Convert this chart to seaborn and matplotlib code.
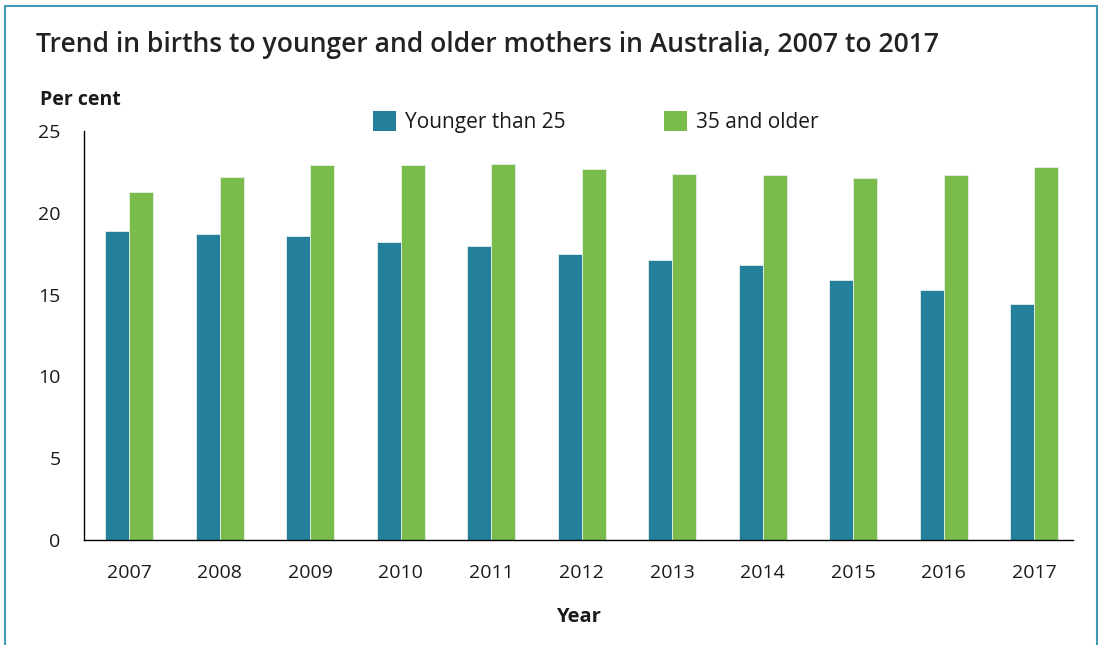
import pandas as pd
import matplotlib.pyplot as plt
import seaborn as sns
from matplotlib.patches import Rectangle, Patch

# values
years = ["2007", "2008", "2009", "2010", "2011", "2012",
         "2013", "2014", "2015", "2016", "2017"]
younger_25 = [18.9, 18.7, 18.6, 18.2, 18.0, 17.5, 17.1, 16.8, 15.9, 15.3, 14.4]
older_35 = [21.3, 22.2, 22.9, 22.9, 23.0, 22.7, 22.4, 22.3, 22.1, 22.3, 22.8]
groups = ["Younger than 25", "35 and older"]
colours = ["#237f9a", "#7abc4b"]

df = pd.DataFrame({
    "Year": years * 2,
    "Percent": younger_25 + older_35,
    "Group": [groups[0]] * len(years) + [groups[1]] * len(years),
})

sns.set_style("white")
plt.rcParams["font.family"] = ["Open Sans", "DejaVu Sans"]
text_col = "#1a1a1a"

fig = plt.figure(figsize=(11.01, 6.45), dpi=100)
ax = fig.add_axes([84 / 1101, 1 - 540 / 645, (1073 - 84) / 1101, (540 - 131) / 645])

sns.barplot(data=df, x="Year", y="Percent", hue="Group", hue_order=groups,
            palette=colours, width=0.53, gap=0, saturation=1,
            edgecolor="#e4f0e8", linewidth=0.6, ax=ax, legend=False)

ax.set_ylim(0, 25)
ax.set_xlim(-0.5, 10.43)
ax.set_yticks([0, 5, 10, 15, 20, 25])
ax.tick_params(axis="y", length=9, width=1, colors=text_col, labelsize=14, pad=8)
ax.tick_params(axis="x", length=0, labelsize=14, colors=text_col, pad=17)
for s in ["top", "right"]:
    ax.spines[s].set_visible(False)
for s in ["left", "bottom"]:
    ax.spines[s].set_color("black")
    ax.spines[s].set_linewidth(1)
ax.set_xlabel("Year", fontsize=14.5, fontweight="bold", color=text_col, labelpad=18)
ax.set_ylabel("")

fig.text(36 / 1101, 1 - 45 / 645, "Trend in births to younger and older mothers in Australia, 2007 to 2017",
         fontsize=19.1, fontweight="semibold", color="#222222", va="center", ha="left")
fig.text(40 / 1101, 1 - 100 / 645, "Per cent", fontsize=14, fontweight="bold",
         color=text_col, va="center", ha="left")

handles = [Patch(facecolor=c, edgecolor="none") for c in colours]
fig.legend(handles, groups, loc="center left", bbox_to_anchor=(373 / 1101, 1 - 122 / 645),
           ncol=2, frameon=False, fontsize=15, handlelength=1.1, handleheight=1.1,
           handletextpad=0.45, columnspacing=4.7, labelcolor=text_col,
           borderpad=0, borderaxespad=0)

# thin teal frame round the figure
fig.patches.append(Rectangle((5 / 1101, -0.05), 1092 / 1101, 1.05 - 6 / 645,
                             transform=fig.transFigure, fill=False,
                             edgecolor="#3d9db8", linewidth=1.5))

fig.savefig("out.png", dpi=100)
